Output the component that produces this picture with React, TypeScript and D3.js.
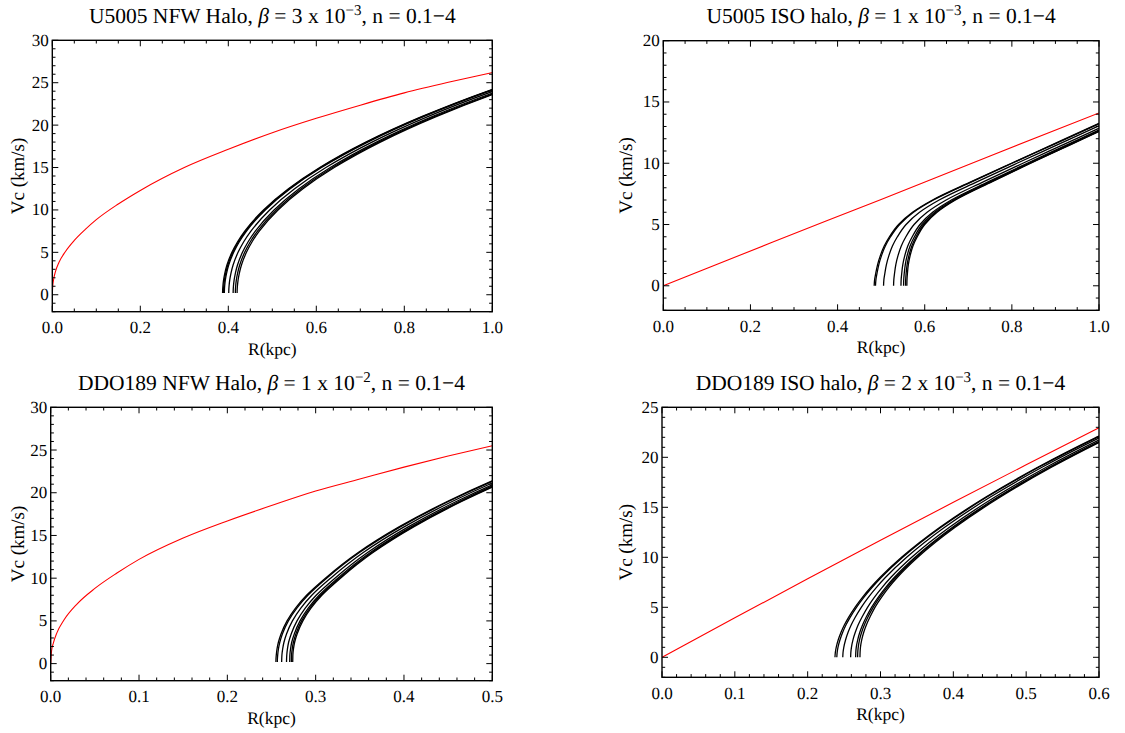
import React from 'react';
import * as d3 from 'd3';

// ---------- U5005, NFW halo (beta = 3e-3) ----------
const u5005NfwRedR = [0, 0.001, 0.003, 0.007, 0.015, 0.03, 0.05, 0.075, 0.1, 0.15, 0.2, 0.3, 0.4, 0.5, 0.6, 0.7, 0.8, 0.9, 1.0];
const u5005NfwRedV = [0, 1.0, 1.8, 2.7, 3.8, 5.1, 6.4, 7.7, 8.85, 10.7, 12.3, 15.0, 17.15, 19.1, 20.8, 22.35, 23.8, 25.05, 26.2];
// velocity levels (km/s) at which the radius of each n-curve is listed
const u5005NfwLevels = [0.2, 0.6, 1, 1.75, 2.5, 3.5, 5, 6.25, 7.5, 10, 12.5, 15, 18, 21, 24.2, 26];
const u5005NfwCurves = [
  [0.387, 0.3872, 0.3877, 0.3893, 0.3919, 0.3969, 0.4082, 0.4211, 0.4374, 0.48, 0.5367, 0.6078, 0.7126, 0.8394, 0.999, 1.1],
  [0.389, 0.3892, 0.3897, 0.3913, 0.3939, 0.3989, 0.4102, 0.4231, 0.4394, 0.482, 0.5387, 0.6098, 0.7146, 0.8414, 1.001, 1.102],
  [0.391, 0.3912, 0.3917, 0.3933, 0.3959, 0.4009, 0.4122, 0.4251, 0.4414, 0.484, 0.5407, 0.6118, 0.7166, 0.8434, 1.003, 1.104],
  [0.401, 0.4012, 0.4017, 0.4033, 0.4059, 0.4109, 0.4222, 0.4351, 0.4514, 0.494, 0.5507, 0.6218, 0.7266, 0.8534, 1.013, 1.114],
  [0.411, 0.4112, 0.4117, 0.4133, 0.4159, 0.4209, 0.4322, 0.4451, 0.4614, 0.504, 0.5607, 0.6318, 0.7366, 0.8634, 1.023, 1.124],
  [0.416, 0.4162, 0.4167, 0.4183, 0.4209, 0.4259, 0.4372, 0.4501, 0.4664, 0.509, 0.5657, 0.6368, 0.7416, 0.8684, 1.028, 1.129],
  [0.42, 0.4202, 0.4207, 0.4223, 0.4249, 0.4299, 0.4412, 0.4541, 0.4704, 0.513, 0.5697, 0.6408, 0.7456, 0.8724, 1.032, 1.133],
];
const u5005NfwXTicks = [0, 0.2, 0.4, 0.6, 0.8, 1.0];
const u5005NfwYTicks = [0, 5, 10, 15, 20, 25, 30];

// ---------- U5005, ISO halo (beta = 1e-3) ----------
const u5005IsoRedR = [0, 0.25, 0.5, 0.75, 1.0];
const u5005IsoRedV = [0, 3.55, 7.05, 10.6, 14.1];
const u5005IsoLevels = [0, 0.5, 1, 1.75, 2.5, 3.25, 4, 5, 6, 7, 8.5, 10, 11.5, 13.25, 14.5];
const u5005IsoCurves = [
  [0.484, 0.485, 0.4875, 0.492, 0.4985, 0.507, 0.519, 0.54, 0.572, 0.618, 0.707, 0.799, 0.892, 1.0, 1.076],
  [0.487, 0.488, 0.4904, 0.4948, 0.5012, 0.5096, 0.5216, 0.5424, 0.5743, 0.6201, 0.7089, 0.8008, 0.8937, 1.0016, 1.0776],
  [0.5055, 0.5063, 0.5084, 0.5122, 0.5181, 0.5259, 0.5373, 0.5572, 0.5881, 0.6331, 0.7208, 0.8117, 0.904, 1.0114, 1.0872],
  [0.5285, 0.5291, 0.5307, 0.5338, 0.539, 0.5462, 0.5568, 0.5756, 0.6054, 0.6492, 0.7355, 0.8253, 0.9169, 1.0236, 1.0991],
  [0.5455, 0.5459, 0.5472, 0.5498, 0.5545, 0.5611, 0.5713, 0.5892, 0.6181, 0.6611, 0.7464, 0.8353, 0.9264, 1.0326, 1.108],
  [0.5515, 0.5518, 0.553, 0.5555, 0.5599, 0.5664, 0.5764, 0.594, 0.6226, 0.6653, 0.7502, 0.8388, 0.9298, 1.0358, 1.1111],
  [0.556, 0.5563, 0.5573, 0.5597, 0.564, 0.5704, 0.5802, 0.5976, 0.626, 0.6684, 0.7531, 0.8415, 0.9323, 1.0382, 1.1134],
  [0.559, 0.5593, 0.5603, 0.5625, 0.5668, 0.573, 0.5828, 0.6, 0.6283, 0.6705, 0.755, 0.8433, 0.934, 1.0398, 1.115],
];
const u5005IsoXTicks = [0, 0.2, 0.4, 0.6, 0.8, 1.0];
const u5005IsoYTicks = [0, 5, 10, 15, 20];

// ---------- DDO189, NFW halo (beta = 1e-2) ----------
const ddo189NfwRedR = [0, 0.001, 0.003, 0.007, 0.015, 0.03, 0.05, 0.075, 0.1, 0.15, 0.2, 0.25, 0.3, 0.35, 0.4, 0.45, 0.5];
const ddo189NfwRedV = [0, 1.5, 2.4, 3.6, 5.1, 7.0, 8.8, 10.6, 12.2, 14.7, 16.7, 18.5, 20.2, 21.6, 23.0, 24.3, 25.5];
const ddo189NfwLevels = [0.2, 0.6, 1, 1.75, 2.5, 3.5, 5, 6.5, 8, 10, 13, 16, 19, 22, 23];
const ddo189NfwCurves = [
  [0.255, 0.2551, 0.2554, 0.2563, 0.2578, 0.2609, 0.2676, 0.2772, 0.2897, 0.311, 0.3482, 0.3944, 0.4495, 0.5135, 0.5368],
  [0.2566, 0.2567, 0.257, 0.2579, 0.2594, 0.2624, 0.2691, 0.2787, 0.2912, 0.3124, 0.3496, 0.3958, 0.4509, 0.5149, 0.5382],
  [0.2615, 0.2616, 0.2618, 0.2627, 0.2641, 0.2671, 0.2737, 0.2832, 0.2956, 0.3169, 0.3539, 0.4001, 0.4551, 0.519, 0.5423],
  [0.267, 0.2671, 0.2673, 0.2681, 0.2694, 0.2724, 0.2789, 0.2882, 0.3006, 0.3218, 0.3588, 0.4048, 0.4598, 0.5237, 0.547],
  [0.2706, 0.2707, 0.2708, 0.2716, 0.2729, 0.2759, 0.2823, 0.2916, 0.3039, 0.325, 0.3619, 0.408, 0.4629, 0.5268, 0.5501],
  [0.2725, 0.2726, 0.2727, 0.2735, 0.2748, 0.2777, 0.2841, 0.2933, 0.3056, 0.3268, 0.3636, 0.4096, 0.4646, 0.5284, 0.5517],
  [0.274, 0.2741, 0.2742, 0.2749, 0.2762, 0.2791, 0.2855, 0.2947, 0.307, 0.3281, 0.3649, 0.4109, 0.4658, 0.5297, 0.553],
];
const ddo189NfwXTicks = [0, 0.1, 0.2, 0.3, 0.4, 0.5];
const ddo189NfwYTicks = [0, 5, 10, 15, 20, 25, 30];

// ---------- DDO189, ISO halo (beta = 2e-3) ----------
const ddo189IsoRedR = [0, 0.1, 0.2, 0.3, 0.4, 0.5, 0.6];
const ddo189IsoRedV = [0, 3.95, 7.85, 11.7, 15.5, 19.25, 22.95];
const ddo189IsoLevels = [0, 0.5, 1, 1.75, 2.5, 3.25, 4, 5, 6, 7, 8, 10, 13, 16, 19, 22, 23];
const ddo189IsoCurves = [
  [0.2375, 0.238, 0.2392, 0.242, 0.2458, 0.2505, 0.2562, 0.265, 0.2752, 0.2868, 0.2996, 0.3289, 0.3816, 0.4441, 0.5158, 0.5963, 0.625],
  [0.24, 0.2405, 0.2416, 0.2444, 0.2481, 0.2527, 0.2583, 0.267, 0.2771, 0.2886, 0.3013, 0.3305, 0.3831, 0.4456, 0.5172, 0.5976, 0.6263],
  [0.2482, 0.2486, 0.2496, 0.2521, 0.2555, 0.2599, 0.2653, 0.2736, 0.2833, 0.2945, 0.307, 0.3359, 0.3881, 0.4503, 0.5217, 0.602, 0.6306],
  [0.259, 0.2593, 0.2601, 0.2622, 0.2654, 0.2694, 0.2745, 0.2822, 0.2915, 0.3023, 0.3144, 0.3429, 0.3947, 0.4566, 0.5276, 0.6077, 0.6362],
  [0.2659, 0.2661, 0.2667, 0.2687, 0.2716, 0.2755, 0.2803, 0.2877, 0.2968, 0.3072, 0.3192, 0.3474, 0.3989, 0.4606, 0.5314, 0.6114, 0.6398],
  [0.2686, 0.2688, 0.2694, 0.2712, 0.2741, 0.2779, 0.2826, 0.2899, 0.2988, 0.3092, 0.3211, 0.3491, 0.4006, 0.4621, 0.5329, 0.6128, 0.6412],
  [0.2718, 0.272, 0.2725, 0.2742, 0.277, 0.2807, 0.2854, 0.2924, 0.3013, 0.3115, 0.3233, 0.3512, 0.4025, 0.464, 0.5347, 0.6145, 0.6428],
];
const ddo189IsoXTicks = [0, 0.1, 0.2, 0.3, 0.4, 0.5, 0.6];
const ddo189IsoYTicks = [0, 5, 10, 15, 20, 25];

type Box = { l: number; r: number; t: number; b: number; yLabelX: number };
type PanelSpec = {
  id: string;
  name: string;
  beta: string;
  exp: string;
  xDomain: [number, number];
  yDomain: [number, number];
  xTicks: number[];
  xMinor: number;
  yTicks: number[];
  yMinor: number;
  redR: number[];
  redV: number[];
  levels: number[];
  curves: number[][];
  box: Box;
};

const panels: PanelSpec[] = [
  {
    id: 'p1', name: 'U5005 NFW Halo', beta: '3', exp: '\u22123',
    xDomain: [0, 1], yDomain: [-2, 30], xTicks: u5005NfwXTicks, xMinor: 0.05, yTicks: u5005NfwYTicks, yMinor: 1,
    redR: u5005NfwRedR, redV: u5005NfwRedV, levels: u5005NfwLevels, curves: u5005NfwCurves,
    box: { l: 52.3, r: 492.3, t: 40.3, b: 311.7, yLabelX: 24 },
  },
  {
    id: 'p2', name: 'U5005 ISO halo', beta: '1', exp: '\u22123',
    xDomain: [0, 1], yDomain: [-2, 20], xTicks: u5005IsoXTicks, xMinor: 0.05, yTicks: u5005IsoYTicks, yMinor: 1,
    redR: u5005IsoRedR, redV: u5005IsoRedV, levels: u5005IsoLevels, curves: u5005IsoCurves,
    box: { l: 663.3, r: 1099, t: 40.7, b: 310.3, yLabelX: 632 },
  },
  {
    id: 'p3', name: 'DDO189 NFW Halo', beta: '1', exp: '\u22122',
    xDomain: [0, 0.5], yDomain: [-2, 30], xTicks: ddo189NfwXTicks, xMinor: 0.02, yTicks: ddo189NfwYTicks, yMinor: 1,
    redR: ddo189NfwRedR, redV: ddo189NfwRedV, levels: ddo189NfwLevels, curves: ddo189NfwCurves,
    box: { l: 50.7, r: 492.3, t: 407.3, b: 680.7, yLabelX: 23.5 },
  },
  {
    id: 'p4', name: 'DDO189 ISO halo', beta: '2', exp: '\u22123',
    xDomain: [0, 0.6], yDomain: [-2, 25], xTicks: ddo189IsoXTicks, xMinor: 0.02, yTicks: ddo189IsoYTicks, yMinor: 1,
    redR: ddo189IsoRedR, redV: ddo189IsoRedV, levels: ddo189IsoLevels, curves: ddo189IsoCurves,
    box: { l: 662, r: 1099, t: 407.3, b: 677.3, yLabelX: 632 },
  },
];

const SERIF = "'Liberation Serif', 'DejaVu Serif', serif";
const MAJOR = 6;
const MINOR = 3.2;

// every multiple of `step` inside [lo, hi]
function steps(lo: number, hi: number, step: number): number[] {
  const first = Math.ceil(lo / step - 1e-9);
  const out: number[] = [];
  for (let i = first; i * step <= hi + 1e-9; i++) out.push(+(i * step).toFixed(6));
  return out;
}

function Label(props: { x?: number; y?: number; size: number; anchor: 'start' | 'middle' | 'end'; transform?: string; children: React.ReactNode }) {
  const { x, y, size, anchor, transform, children } = props;
  return (
    <text
      x={x}
      y={y}
      transform={transform}
      textAnchor={anchor}
      textRendering="geometricPrecision"
      style={{ fontFamily: SERIF, fontSize: size }}
      fill="#000"
    >
      {children}
    </text>
  );
}

function Panel({ p }: { p: PanelSpec }) {
  const { l, r, t, b, yLabelX } = p.box;
  const x = d3.scaleLinear().domain(p.xDomain).range([l, r]);
  const y = d3.scaleLinear().domain(p.yDomain).range([b, t]);

  const isMajorX = (v: number) => p.xTicks.some((tv) => Math.abs(tv - v) < 1e-6);
  const isMajorY = (v: number) => p.yTicks.some((tv) => Math.abs(tv - v) < 1e-6);
  const xAll = steps(p.xDomain[0], p.xDomain[1], p.xMinor);
  const yAll = steps(p.yDomain[0], p.yDomain[1], p.yMinor);

  const redLine = d3
    .line<number>()
    .x((_, i) => x(p.redR[i]))
    .y((v) => y(v))
    .curve(d3.curveMonotoneX);

  const blackLine = d3
    .line<number>()
    .x((rv) => x(rv))
    .y((_, i) => y(p.levels[i]))
    .curve(d3.curveMonotoneY);

  const fmtX = d3.format('.1f');
  const cx = (l + r) / 2;

  return (
    <g>
      <defs>
        <clipPath id={`clip-${p.id}`}>
          <rect x={l} y={t} width={r - l} height={b - t} />
        </clipPath>
      </defs>

      <g clipPath={`url(#clip-${p.id})`}>
        {p.curves.map((c, i) => (
          <path key={i} d={blackLine(c) || ''} fill="none" stroke="#000" strokeWidth={1.3} />
        ))}
        <path d={redLine(p.redV) || ''} fill="none" stroke="#ff0000" strokeWidth={1.1} />
      </g>

      {/* ticks on all four sides */}
      {xAll.map((v) => {
        const len = isMajorX(v) ? MAJOR : MINOR;
        const px = x(v);
        return (
          <g key={`x${v}`} stroke="#000" strokeWidth={1}>
            <line x1={px} x2={px} y1={b} y2={b - len} />
            <line x1={px} x2={px} y1={t} y2={t + len} />
          </g>
        );
      })}
      {yAll.map((v) => {
        const len = isMajorY(v) ? MAJOR : MINOR;
        const py = y(v);
        return (
          <g key={`y${v}`} stroke="#000" strokeWidth={1}>
            <line x1={l} x2={l + len} y1={py} y2={py} />
            <line x1={r} x2={r - len} y1={py} y2={py} />
          </g>
        );
      })}

      <rect x={l} y={t} width={r - l} height={b - t} fill="none" stroke="#000" strokeWidth={1.4} />

      {/* tick labels */}
      {p.xTicks.map((v) => (
        <Label key={`xl${v}`} x={x(v)} y={b + 21.5} size={17} anchor="middle">
          {fmtX(v)}
        </Label>
      ))}
      {p.yTicks.map((v) => (
        <Label key={`yl${v}`} x={l - 3.5} y={y(v) + 5.5} size={17} anchor="end">
          {v}
        </Label>
      ))}

      {/* axis titles */}
      <Label x={cx} y={b + 43} size={17.5} anchor="middle">
        R(kpc)
      </Label>
      <Label transform={`translate(${yLabelX},${(t + b) / 2}) rotate(-90)`} size={19} anchor="middle">
        Vc (km/s)
      </Label>

      {/* panel title */}
      <Label x={cx} y={t - 17.5} size={21.5} anchor="middle">
        <tspan>{p.name}, </tspan>
        <tspan style={{ fontStyle: 'italic' }}>{'\u03b2'}</tspan>
        <tspan>{` = ${p.beta} x 10`}</tspan>
        <tspan dy={-8} style={{ fontSize: 15 }}>{p.exp}</tspan>
        <tspan dy={8}>{', n = 0.1\u22124'}</tspan>
      </Label>
    </g>
  );
}

export default function App() {
  return (
    <svg
      width={1125}
      height={733}
      viewBox="0 0 1125 733"
      style={{ position: 'absolute', left: 0, top: 0, background: '#fff', fontFamily: SERIF }}
    >
      <rect x={0} y={0} width={1125} height={733} fill="#fff" />
      {panels.map((p) => (
        <Panel key={p.id} p={p} />
      ))}
    </svg>
  );
}
